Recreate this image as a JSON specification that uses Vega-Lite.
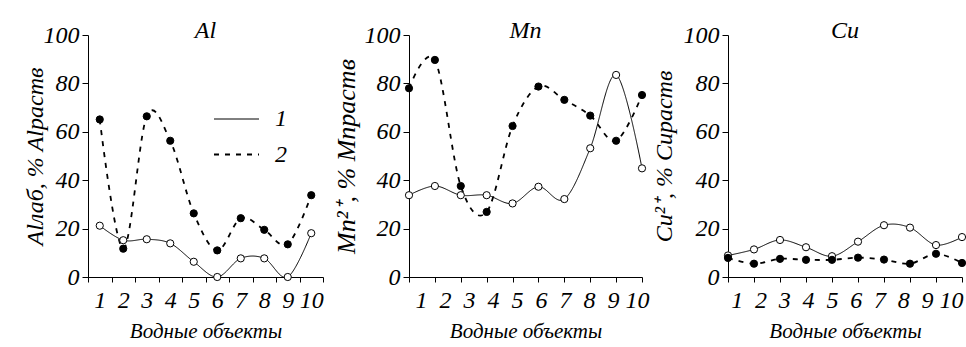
{
  "$schema": "https://vega.github.io/schema/vega-lite/v6.json",
  "background": "white",
  "padding": {"left": 23, "top": 19, "right": 0, "bottom": 0},
  "spacing": 86,
  "bounds": "flush",
  "datasets": {
    "al": [
      {"obj": 1, "s": "1", "v": 21.2}, {"obj": 2, "s": "1", "v": 15.2}, {"obj": 3, "s": "1", "v": 15.6}, {"obj": 4, "s": "1", "v": 13.9}, {"obj": 5, "s": "1", "v": 6.3},
      {"obj": 6, "s": "1", "v": 0}, {"obj": 7, "s": "1", "v": 7.7}, {"obj": 8, "s": "1", "v": 7.7}, {"obj": 9, "s": "1", "v": 0}, {"obj": 10, "s": "1", "v": 18.1},
      {"obj": 1, "s": "2", "v": 65.1}, {"obj": 2, "s": "2", "v": 11.7}, {"obj": 3, "s": "2", "v": 66.4}, {"obj": 4, "s": "2", "v": 56.3}, {"obj": 5, "s": "2", "v": 26.3},
      {"obj": 6, "s": "2", "v": 11}, {"obj": 7, "s": "2", "v": 24.3}, {"obj": 8, "s": "2", "v": 19.5}, {"obj": 9, "s": "2", "v": 13.5}, {"obj": 10, "s": "2", "v": 33.8}
    ],
    "mn": [
      {"obj": 1, "s": "1", "v": 33.8}, {"obj": 2, "s": "1", "v": 37.6}, {"obj": 3, "s": "1", "v": 33.8}, {"obj": 4, "s": "1", "v": 33.8}, {"obj": 5, "s": "1", "v": 30.4},
      {"obj": 6, "s": "1", "v": 37.3}, {"obj": 7, "s": "1", "v": 32.2}, {"obj": 8, "s": "1", "v": 53.2}, {"obj": 9, "s": "1", "v": 83.5}, {"obj": 10, "s": "1", "v": 44.9},
      {"obj": 1, "s": "2", "v": 78}, {"obj": 2, "s": "2", "v": 89.7}, {"obj": 3, "s": "2", "v": 37.6}, {"obj": 4, "s": "2", "v": 26.9}, {"obj": 5, "s": "2", "v": 62.4},
      {"obj": 6, "s": "2", "v": 78.7}, {"obj": 7, "s": "2", "v": 73.2}, {"obj": 8, "s": "2", "v": 66.7}, {"obj": 9, "s": "2", "v": 56.3}, {"obj": 10, "s": "2", "v": 75.2}
    ],
    "cu": [
      {"obj": 1, "s": "1", "v": 8.9}, {"obj": 2, "s": "1", "v": 11.4}, {"obj": 3, "s": "1", "v": 15.3}, {"obj": 4, "s": "1", "v": 12.3}, {"obj": 5, "s": "1", "v": 8.6},
      {"obj": 6, "s": "1", "v": 14.6}, {"obj": 7, "s": "1", "v": 21.4}, {"obj": 8, "s": "1", "v": 20.4}, {"obj": 9, "s": "1", "v": 13.2}, {"obj": 10, "s": "1", "v": 16.5},
      {"obj": 1, "s": "2", "v": 7.9}, {"obj": 2, "s": "2", "v": 5.5}, {"obj": 3, "s": "2", "v": 7.5}, {"obj": 4, "s": "2", "v": 7.1}, {"obj": 5, "s": "2", "v": 7.1},
      {"obj": 6, "s": "2", "v": 8}, {"obj": 7, "s": "2", "v": 7.2}, {"obj": 8, "s": "2", "v": 5.5}, {"obj": 9, "s": "2", "v": 9.6}, {"obj": 10, "s": "2", "v": 5.8}
    ]
  },
  "resolve": {
    "scale": {"strokeDash": "independent", "fill": "independent", "strokeWidth": "independent"},
    "legend": {"strokeDash": "independent", "fill": "independent", "strokeWidth": "independent"}
  },
  "hconcat": [
    {
      "width": 235, "height": 242,
      "data": {"name": "al"},
      "title": {"text": "Al", "font": "Liberation Serif", "fontStyle": "italic", "fontWeight": "normal", "fontSize": 24, "color": "black", "offset": -20},
      "encoding": {
        "x": {"field": "obj", "type": "quantitative", "scale": {"domain": [0.5, 10.5], "nice": false, "zero": false},
          "axis": {"title": "Водные объекты", "values": [0.5, 1.5, 2.5, 3.5, 4.5, 5.5, 6.5, 7.5, 8.5, 9.5, 10.5],
            "labelExpr": "datum.value < 10 ? format(datum.value + 0.5, 'd') : ''", "labelOffset": 11.75,
            "labelFont": "Liberation Serif", "titleFont": "Liberation Serif"}},
        "y": {"field": "v", "type": "quantitative", "scale": {"domain": [0, 100], "nice": false},
          "axis": {"title": "Alлаб, % Alраств", "titlePadding": -4, "labelFont": "Liberation Serif", "titleFont": "Liberation Serif"}}
      },
      "layer": [
        {
          "mark": {"type": "line", "interpolate": "cardinal", "color": "black"},
          "encoding": {
            "strokeDash": {"field": "s", "type": "nominal", "scale": {"domain": ["1", "2"], "range": [[1, 0], [5, 6]]},
              "legend": {
                "orient": "none", "legendX": 125, "legendY": 61, "title": null, "padding": 0,
                "symbolType": "stroke", "symbolSize": 2025, "symbolStrokeColor": "black", "symbolStrokeWidth": 1.5,
                "rowPadding": -6, "labelOffset": 15,
                "labelFont": "Liberation Serif", "labelFontStyle": "italic", "labelFontSize": 24, "labelColor": "black"
              }},
            "strokeWidth": {"field": "s", "type": "nominal", "scale": {"domain": ["1", "2"], "range": [1, 1.8]}, "legend": null}
          }
        },
        {
          "mark": {"type": "point", "filled": true, "stroke": "black", "strokeWidth": 1, "opacity": 1, "size": 52},
          "encoding": {
            "fill": {"field": "s", "type": "nominal", "scale": {"domain": ["1", "2"], "range": ["white", "black"]}, "legend": null}
          }
        }
      ]
    },
    {
      "width": 233, "height": 242,
      "data": {"name": "mn"},
      "title": {"text": "Mn", "font": "Liberation Serif", "fontStyle": "italic", "fontWeight": "normal", "fontSize": 24, "color": "black", "offset": -20},
      "encoding": {
        "x": {"field": "obj", "type": "quantitative", "scale": {"domain": [1, 10], "nice": false, "zero": false},
          "axis": {"title": "Водные объекты", "values": [1, 2, 3, 4, 5, 6, 7, 8, 9, 10],
            "labelOffset": {"expr": "12 - 1.9 * (datum.value - 1)"},
            "labelFont": "Liberation Serif", "titleFont": "Liberation Serif"}},
        "y": {"field": "v", "type": "quantitative", "scale": {"domain": [0, 100], "nice": false},
          "axis": {"title": "Mn²⁺, % Mnраств", "titlePadding": 5, "titleFontSize": 26, "labelFont": "Liberation Serif", "titleFont": "Liberation Serif"}}
      },
      "layer": [
        {
          "mark": {"type": "line", "interpolate": "cardinal", "color": "black"},
          "encoding": {
            "strokeDash": {"field": "s", "type": "nominal", "scale": {"domain": ["1", "2"], "range": [[1, 0], [5, 6]]}, "legend": null},
            "strokeWidth": {"field": "s", "type": "nominal", "scale": {"domain": ["1", "2"], "range": [1, 1.8]}, "legend": null}
          }
        },
        {
          "mark": {"type": "point", "filled": true, "stroke": "black", "strokeWidth": 1, "opacity": 1, "size": 52},
          "encoding": {
            "fill": {"field": "s", "type": "nominal", "scale": {"domain": ["1", "2"], "range": ["white", "black"]}, "legend": null}
          }
        }
      ]
    },
    {
      "width": 234, "height": 242,
      "data": {"name": "cu"},
      "title": {"text": "Cu", "font": "Liberation Serif", "fontStyle": "italic", "fontWeight": "normal", "fontSize": 24, "color": "black", "offset": -20},
      "encoding": {
        "x": {"field": "obj", "type": "quantitative", "scale": {"domain": [1, 10], "nice": false, "zero": false},
          "axis": {"title": "Водные объекты", "values": [1, 2, 3, 4, 5, 6, 7, 8, 9, 10],
            "labelOffset": {"expr": "8.7 - 2.2 * (datum.value - 1)"},
            "labelFont": "Liberation Serif", "titleFont": "Liberation Serif"}},
        "y": {"field": "v", "type": "quantitative", "scale": {"domain": [0, 100], "nice": false},
          "axis": {"title": "Cu²⁺, % Cuраств", "titlePadding": 7, "labelFont": "Liberation Serif", "titleFont": "Liberation Serif"}}
      },
      "layer": [
        {
          "mark": {"type": "line", "interpolate": "cardinal", "color": "black"},
          "encoding": {
            "strokeDash": {"field": "s", "type": "nominal", "scale": {"domain": ["1", "2"], "range": [[1, 0], [5, 6]]}, "legend": null},
            "strokeWidth": {"field": "s", "type": "nominal", "scale": {"domain": ["1", "2"], "range": [1, 1.8]}, "legend": null}
          }
        },
        {
          "mark": {"type": "point", "filled": true, "stroke": "black", "strokeWidth": 1, "opacity": 1, "size": 52},
          "encoding": {
            "fill": {"field": "s", "type": "nominal", "scale": {"domain": ["1", "2"], "range": ["white", "black"]}, "legend": null}
          }
        }
      ]
    }
  ],
  "config": {
    "view": {"stroke": null},
    "font": "Liberation Serif",
    "title": {"font": "Liberation Serif", "fontStyle": "italic", "fontWeight": "normal", "fontSize": 24, "color": "black", "anchor": "middle"},
    "axis": {
      "grid": false, "domainColor": "black", "domainWidth": 1, "tickColor": "black", "tickWidth": 1,
      "labelColor": "black", "titleColor": "black",
      "labelFont": "Liberation Serif", "labelFontStyle": "italic", "labelFontSize": 24,
      "labelOverlap": false, "labelFlush": false, "labelBound": false,
      "titleFont": "Liberation Serif", "titleFontStyle": "italic", "titleFontWeight": "normal"
    },
    "axisX": {"tickSize": 5, "labelPadding": 6, "titleFontSize": 21, "titlePadding": 8},
    "axisY": {"tickSize": 6, "labelPadding": 3, "titleFontSize": 24, "values": [0, 20, 40, 60, 80, 100]}
  }
}
